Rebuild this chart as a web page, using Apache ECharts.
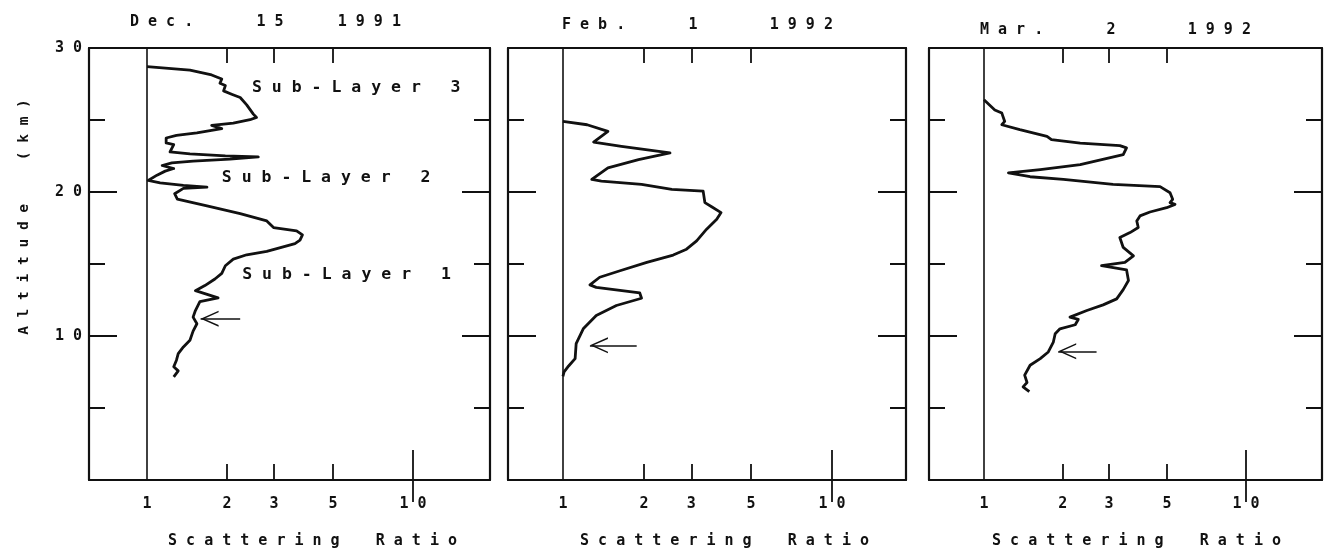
<!DOCTYPE html>
<html><head><meta charset="utf-8">
<script src="https://cdn.jsdelivr.net/npm/echarts@6/dist/echarts.min.js"></script>
<style>html,body{margin:0;padding:0;background:#fff}#c{width:1329px;height:554px}</style>
</head><body><div id="c"></div>
<script>
// ---- data ----
const titleParts = [['Dec.', '15', '1991'], ['Feb.', '1', '1992'], ['Mar.', '2', '1992']];
const xLabelValues = [1, 2, 3, 5, 10];
const xMinorTicks = [2, 3, 5];
const xMajorTicks = [10];
const yLabelValues = [10, 20, 30];
const yMinorTicks = [5, 15, 25];
const yMajorTicks = [10, 20];

const dec15Ratio = [1.00,1.45,1.75,1.91,1.88,1.97,1.94,2.08,2.24,2.37,2.51,2.58,2.44,2.11,1.75,1.91,1.54,1.29,1.18,1.18,1.26,1.22,1.45,1.97,2.62,2.05,1.49,1.24,1.14,1.26,1.17,1.09,1.01,1.12,1.37,1.68,1.37,1.27,1.30,1.68,2.24,2.82,2.99,3.65,3.84,3.76,3.60,3.25,2.82,2.37,2.11,1.97,1.91,1.80,1.65,1.52,1.85,1.58,1.52,1.49,1.54,1.49,1.45,1.37,1.31,1.29,1.26,1.31,1.26];
const dec15Alt = [28.70,28.47,28.13,27.85,27.55,27.39,27.02,26.79,26.56,26.05,25.41,25.18,25.02,24.79,24.63,24.40,24.10,23.93,23.75,23.41,23.29,22.78,22.65,22.51,22.44,22.28,22.14,22.02,21.84,21.63,21.45,21.17,20.80,20.64,20.46,20.34,20.25,19.88,19.50,19.03,18.50,17.99,17.53,17.30,17.02,16.66,16.42,16.19,15.87,15.64,15.34,14.88,14.35,13.96,13.50,13.15,12.65,12.39,11.77,11.31,10.85,10.34,9.70,9.24,8.78,8.32,7.86,7.58,7.16];

const feb1Ratio = [1.00,1.23,1.47,1.30,1.65,2.50,1.91,1.47,1.28,1.39,1.96,2.54,3.32,3.37,3.57,3.87,3.73,3.42,3.14,2.88,2.57,2.05,1.63,1.37,1.26,1.33,1.93,1.96,1.58,1.33,1.19,1.12,1.11,1.05,1.01,1.00];
const feb1Alt = [24.90,24.67,24.21,23.47,23.17,22.71,22.25,21.68,20.87,20.76,20.53,20.18,20.06,19.26,18.98,18.57,18.11,17.42,16.61,16.03,15.62,15.11,14.53,14.08,13.55,13.38,12.99,12.62,12.12,11.43,10.50,9.47,8.43,7.92,7.51,7.20];

const mar2Ratio = [1.00,1.10,1.17,1.20,1.17,1.37,1.74,1.81,2.33,3.30,3.50,3.40,2.33,1.64,1.24,1.50,2.01,3.11,4.70,5.13,5.25,5.13,5.36,4.98,4.30,3.94,3.83,3.88,3.61,3.30,3.40,3.72,3.45,2.81,3.50,3.56,3.40,3.21,2.85,2.47,2.13,2.29,2.23,1.95,1.87,1.84,1.76,1.64,1.50,1.43,1.46,1.41,1.49];
const mar2Alt = [26.40,25.70,25.48,24.90,24.67,24.33,23.86,23.63,23.40,23.22,23.06,22.60,21.90,21.56,21.33,21.06,20.87,20.53,20.37,19.95,19.49,19.26,19.14,18.91,18.61,18.34,17.99,17.53,17.18,16.84,16.15,15.57,15.11,14.88,14.60,13.85,13.22,12.58,12.16,11.77,11.31,11.15,10.78,10.50,10.16,9.58,8.89,8.43,7.97,7.28,6.77,6.47,6.13];

const subLayerLabels = ['Sub-Layer 3', 'Sub-Layer 2', 'Sub-Layer 1'];
const subLayerAt = [[2.48, 27.23], [1.91, 21.01], [2.28, 14.24]];
const arrowAlt = [11.2, 9.35, 8.94];
const arrowTail = [2.24, 1.88, 2.69];
const arrowTip = [1.59, 1.26, 1.92];

// ---- layout / style ----
const FONT = 'DejaVu Sans Mono';
const INK = '#111';
const grids = [
  {left: 89, top: 48, width: 401, height: 434},
  {left: 508, top: 48, width: 398, height: 434},
  {left: 929, top: 48, width: 393, height: 434}
];
const xRange = [[0.605, 19.48], [0.625, 18.84], [0.617, 19.5]];
const titlePos = [[130, 15], [562, 18], [980, 23]];
const xNamePad = [46, 35, 22];

const sp = s => s.split('').join(' ');
const titleText = p => sp(p[0]) + ' '.repeat(7) + sp(p[1]) + ' '.repeat(23 - 14 - sp(p[1]).length) + sp(p[2]);
const xName = sp('Scattering') + '    ' + sp('Ratio');
const yName = sp('Altitude') + '     ' + sp('(km)');
const subText = s => { const [a, b] = s.split(' '); return sp(a) + '   ' + b; };

const textBase = {color: INK, fontFamily: FONT, fontWeight: 'bold'};

const xAxes = [], yAxes = [], series = [];
const datasets = [[dec15Ratio, dec15Alt], [feb1Ratio, feb1Alt], [mar2Ratio, mar2Alt]];

grids.forEach((g, i) => {
  const xb = {type: 'log', logBase: 10, gridIndex: i, min: xRange[i][0], max: xRange[i][1],
    splitLine: {show: false}, axisLabel: {show: false}, axisLine: {show: false}, axisTick: {show: false}};
  const tick = (vals, len, w) => ({show: true, inside: true, length: len, customValues: vals, lineStyle: {color: INK, width: w}});
  const line = {show: true, onZero: false, lineStyle: {color: INK, width: 2.2}};
  xAxes.push(Object.assign({}, xb, {
    position: 'bottom', axisLine: line, axisTick: tick(xMinorTicks, 16, 1.8),
    axisLabel: Object.assign({show: true, customValues: xLabelValues, margin: 17, fontSize: 15,
      formatter: v => sp(String(Math.round(v)))}, textBase),
    name: xName, nameLocation: 'middle', nameGap: 54,
    nameTextStyle: Object.assign({fontSize: 15, padding: [0, 0, 0, xNamePad[i]]}, textBase)
  }));
  xAxes.push(Object.assign({}, xb, {position: 'bottom', axisTick: tick(xMajorTicks, 30, 1.8)}));
  xAxes.push(Object.assign({}, xb, {position: 'top', axisLine: line, axisTick: tick(xMinorTicks, 15, 1.8)}));
  xAxes.push(Object.assign({}, xb, {position: 'top', axisTick: tick(xMajorTicks, 22, 1.8)}));

  const yb = {type: 'value', gridIndex: i, min: 0, max: 30,
    splitLine: {show: false}, axisLabel: {show: false}, axisLine: {show: false}, axisTick: {show: false}};
  const y0 = Object.assign({}, yb, {position: 'left', axisLine: line, axisTick: tick(yMinorTicks, 16, 2)});
  if (i === 0) {
    y0.axisLabel = Object.assign({show: true, customValues: yLabelValues, margin: 7, fontSize: 15,
      formatter: v => sp(String(v))}, textBase);
    y0.name = yName; y0.nameLocation = 'middle'; y0.nameGap = 57; y0.nameRotate = 90;
    y0.nameTextStyle = Object.assign({fontSize: 14.5, padding: [0, 0, 0, 94]}, textBase);
  }
  yAxes.push(y0);
  yAxes.push(Object.assign({}, yb, {position: 'left', axisTick: tick(yMajorTicks, 28, 2)}));
  yAxes.push(Object.assign({}, yb, {position: 'right', axisLine: line, axisTick: tick(yMinorTicks, 16, 2)}));
  yAxes.push(Object.assign({}, yb, {position: 'right', axisTick: tick(yMajorTicks, 28, 2)}));

  const [rs, as] = datasets[i];
  const s = {
    type: 'line', xAxisIndex: i * 4, yAxisIndex: i * 4,
    data: rs.map((r, k) => [r, as[k]]),
    symbol: 'none', showSymbol: false, animation: false, silent: true,
    lineStyle: {color: INK, width: 2.8, join: 'round'}, itemStyle: {color: INK},
    markLine: {
      silent: true, animation: false, symbol: ['none', 'none'],
      label: {show: false},
      lineStyle: {color: INK, type: 'solid', width: 1.6},
      emphasis: {disabled: true},
      data: [
        {xAxis: 1},
        [{coord: [arrowTail[i], arrowAlt[i]]},
         {coord: [arrowTip[i], arrowAlt[i]], symbol: 'path://M0,20 L10,0 L20,20 L18,20 L10,4 L2,20 Z',
          symbolSize: [16, 18], symbolOffset: [0, '50%']}]
      ]
    }
  };
  if (i === 0) {
    s.markPoint = {
      silent: true, animation: false, symbol: 'circle', symbolSize: 0,
      label: Object.assign({show: true, position: 'right', distance: 0, fontSize: 16.5,
        formatter: p => subText(p.name)}, textBase),
      data: subLayerLabels.map((n, k) => ({name: n, coord: subLayerAt[k]}))
    };
  }
  series.push(s);
});

const chart = echarts.init(document.getElementById('c'), null, {renderer: 'canvas'});
chart.setOption({
  backgroundColor: '#fff',
  animation: false,
  title: titleParts.map((p, i) => ({
    text: titleText(p), left: titlePos[i][0], top: titlePos[i][1], padding: 0,
    textStyle: Object.assign({fontSize: 15}, textBase)
  })),
  grid: grids,
  xAxis: xAxes,
  yAxis: yAxes,
  series: series
});
</script></body></html>
